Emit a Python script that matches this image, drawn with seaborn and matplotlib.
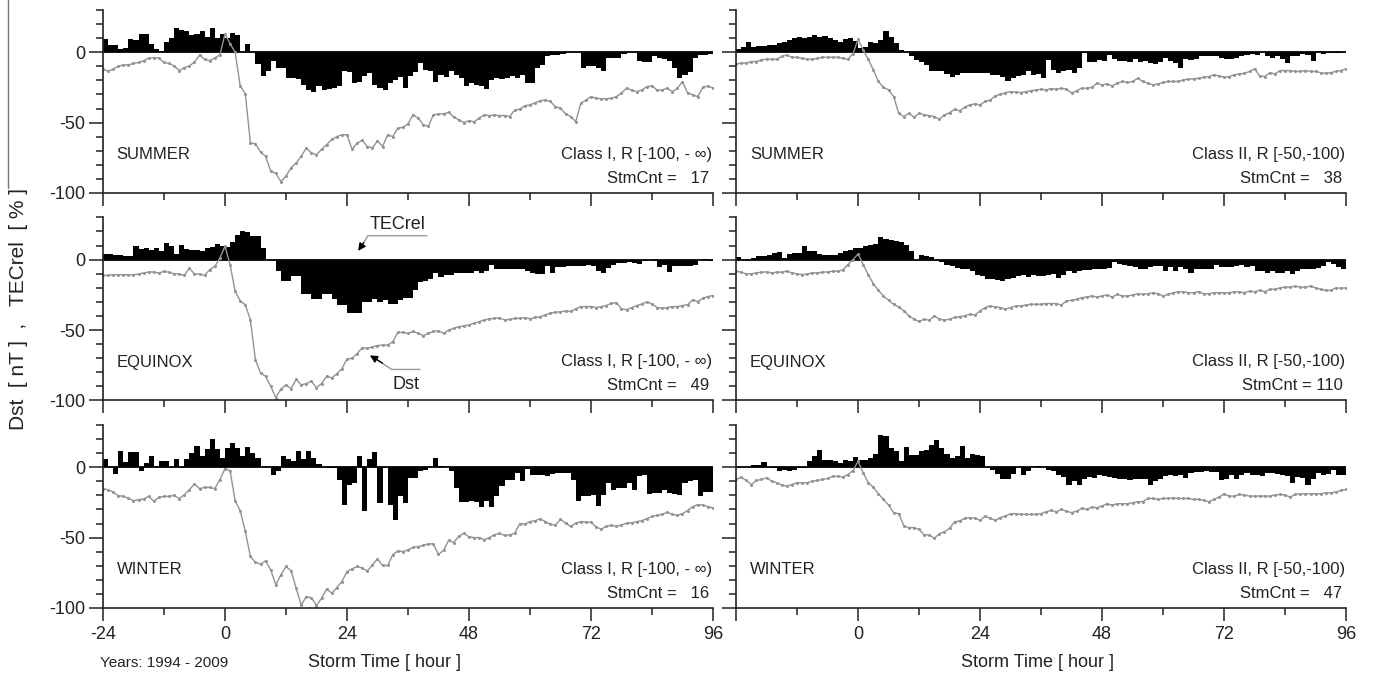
import numpy as np
import matplotlib
matplotlib.use("Agg")
import matplotlib.pyplot as plt
from matplotlib.ticker import MultipleLocator
from matplotlib.lines import Line2D
import seaborn as sns

# storm time axis: Dst sampled each hour, TECrel binned per hour (left edges)
hours = np.arange(-24, 97)
bar_hours = np.arange(-24, 96)

# ---- SUMMER, Class I ----
tec_summer_1 = [9.5, 5, 5, 2, 3, 9.5, 9, 13, 13, 6, 2, 1, 7, 10, 17, 16, 15, 12, 13, 15, 11, 17, 10, 13,
                10, 14, 12, 0, 6, 0,
                -8.5, -17, -13, -6, -11, -11, -18, -18, -19, -23.6, -26.7, -28, -24, -26.7, -26, -25.5, -24, -13, -14, -22,
                -21.5, -17, -15, -23, -25.5, -27, -22, -19.6, -17.7, -25.5, -17, -14.4, -7.8, -12.5, -13, -21, -16, -17.7, -13.7, -16,
                -18.5,
                -24, -22, -23, -24, -26.4, -20, -18.6, -19, -18, -17, -18, -16, -22, -22, -11.4, -9, -3, -2, -2, -1.4,
                0, 0, 0, -11, -10, -10, -11, -13, -4, -4, -4, -1, 0, 0, -6, -7, -7, -3, -4, -5,
                -6, -11, -18, -16, -14, -4, -2, -2,
                -1]
dst_summer_1 = [-12, -13.5, -12, -10, -9, -9, -8, -7.3, -6, -4.3, -3.8, -4.3, -7.3, -8, -9.7, -13, -11, -9.7, -7, -2, -5, -6, -4, -2,
                13, 6, 0, -24, -29.5, -64.5, -65, -71, -74, -84.6, -86, -92, -88, -82, -78.7, -74, -68, -71.6, -72.8, -69,
                -65.7, -62, -60, -58.6, -58.6, -69, -64.5, -62.6, -67, -68, -63, -67, -58.6, -60, -54, -53.4, -50.8, -44.4, -46.8, -51.5,
                -52.7, -44.4, -44, -43.7, -42.8, -46, -48,
                -50, -48.6, -49.5, -46.8, -44.5, -45, -44.5, -45, -45, -45.7, -41, -40.5, -38, -37.4, -36, -34.4, -34, -35, -38.6, -39.8,
                -43.8, -45.7, -49.3, -36.3, -34, -31.5, -32.7, -33, -33, -32.7, -31.5, -29, -25.6, -27, -28, -26.8, -24.4, -24, -26.8, -26.8,
                -25.6, -28, -25.6, -20.9, -29, -30.3, -31.5, -25, -24, -25.5]

# ---- SUMMER, Class II ----
tec_summer_2 = [2, 4, 7, 3.5, 4.5, 4.5, 5, 5, 6.4, 7.6, 8.8, 10, 11, 10, 10.7, 12.3, 11, 11.6, 10, 8.8, 7.6, 9.2, 10, 8,
                3, 4, 7.6, 6.4, 8.8, 15, 10.7, 6.4, 1.7, 0, -3, -5.5, -6.6,
                -9, -13, -13, -13.7, -15.4, -17.3, -16, -15, -15, -15, -15, -14.5, -15, -16, -16, -17.8, -20.8, -18.5, -16.8, -16,
                -13.7, -16, -15.4, -18.5, -5.5, -12.5, -14.5, -13, -12.5, -15, -11.4, -0.7, -6.6, -6.6, -5.5, -6, -2, -5, -6, -6,
                -7.3, -5, -7.3, -6, -7.8, -8.3, -7.3, -4.3, -6, -7.8, -11.4, -5, -5.5, -5, -3, -2.6, -2.6, -3, -4.3, -5,
                -5, -4.3, -3, -2, -1.2, -2, 0, -3, -4.3, -2.4, -5, -7.8, -3, -2.4, -1.4, -2, -6, 1, -1.2, -0.7, -0.3,
                -0.5, -0.2]
dst_summer_2 = [-8.3, -7.8, -7.8, -6.6, -6.6, -5.5, -5, -5, -5, -3, -2, -3.6, -3.6, -4.3, -5, -5, -4.3, -3.6, -3.6, -3.6, -3.6, -4.3, -5, -1,
                9.2, 1.7, -5, -12.5, -20.8, -25, -26.8, -31.5, -43.4, -45.7, -43.4, -46.2, -43.4, -44.5, -45, -45.7, -47.6, -44.5, -43, -40.5,
                -41.7, -39, -37.4, -36.7, -37.4, -35, -34, -31, -29.9, -28.7, -28, -28.4, -28.7, -28, -27.3, -26.8, -26.3, -26.8, -25.8, -26.3,
                -25.6, -26.3, -29, -27.3, -25.6, -25.6, -25, -22, -23.2, -22.5, -24, -22, -20.8, -21.5, -20.8, -18.5, -20.8, -22, -23.2, -22.5,
                -21.5, -20.8, -20.8, -20.8, -19.7, -19, -19, -18.5, -17.8, -17.3, -16, -16.8, -17.8, -17.3, -16, -15.4, -15, -13.7, -11.8, -16.8,
                -17.3, -14.5, -15.4, -13, -13, -13, -13.7, -13.7, -13, -13.7, -13.7, -14.5, -15, -14.5, -13.7, -13, -11.8]

# ---- EQUINOX, Class I ----
tec_equinox_1 = [4, 4, 3.5, 3, 2.5, 2.5, 9.5, 7.5, 8.5, 6.5, 8, 6, 12, 10, 4, 10.5, 7.5, 7, 7, 6, 8, 9, 11, 10,
                 9, 12.6, 17.8, 20, 19.5, 16.6, 16.6, 8.3, -0.5, 0,
                 -8, -15.5, -15.5, -11.4, -11.4, -24.5, -24.5, -28, -28, -24.5, -24.5, -28, -32, -32, -38, -38, -38, -29.8, -30, -28,
                 -29.8, -29, -31.7, -31.7, -28.6, -27, -27,
                 -21.4, -16, -15, -13.6, -9.5, -12, -10.7, -10.7, -9.5, -9.5, -9.5, -9.5, -8.3, -9.5, -8.3, -3.6, -7, -7, -7, -7,
                 -6.7, -6.7, -7.8, -9.5, -10.2, -10.2, -4.8, -9.5, -5.5, -5.5, -4.8, -4.8, -4.3, -4.3, -3.6, -4.8, -8.3, -9.5, -6, -3.6,
                 -2.4, -2.4, -1.7, -2.4, -3, -1.2, 0, -0.7, -5.5, -3.6, -9, -4.8, -4.8, -4.3, -4.3, -3.6, 0, 0.8, -1.2]
dst_equinox_1 = [-11.2, -11.2, -10.7, -10.7, -10.7, -10.7, -10.7, -10.2, -9.5, -8.8, -8.8, -9.5, -8.3, -9, -10, -10.2, -11.2, -6, -10.2, -10.2,
                 -11.2, -7.1, -4.8, 1.2,
                 9.5, -3.6, -22.6, -29.3, -32, -42.9, -71.4, -80.5, -83, -90, -98, -92, -89, -91.7, -85, -89, -88, -86.4, -91, -88,
                 -82.9, -84, -81, -77.4, -70.7, -70, -66.7, -62.6, -63, -62, -61, -60.7, -60.7, -58.3, -51.7, -51.7, -52.4, -51,
                 -52.4, -54, -52.4, -51, -50.5, -52.4, -50, -48.8, -47.6, -47, -46.4, -45.2, -44, -42.9, -42, -41.7, -41.2, -42.9, -42.5, -41.7,
                 -41.7, -41.2, -42, -41, -40.5, -39.3, -38, -37.4, -37, -36.4, -36.8, -35, -33.3, -33.3, -33.3, -34, -33.3, -32.6, -31, -30.5,
                 -35, -35.5, -34, -32.6, -31.5, -30, -31.5, -34, -34.5, -34, -33.3, -33.3, -32.6, -32, -28.6, -29.8, -27.4, -26.2, -25.5]

# ---- EQUINOX, Class II ----
tec_equinox_2 = [1.6, 0, 0, 1.2, 2.3, 2.8, 3.5, 4.7, 5.2, 1.2, 4, 4.7, 4.7, 9.4, 5.9, 5.9, 4, 3, 3.5, 3.5, 4.7, 5.9, 7, 8.2,
                 8.2, 9.4, 10.6, 11, 16, 14.6, 14, 13.4, 12.4, 10.6, 5.9, 0, 3, 2.8, 1.6, 0,
                 -1.6, -3.5, -4.7, -5.9, -6.3, -6.3, -8.2, -10.6, -11.7, -13.4, -14.1, -14.8, -15.3, -13.4, -12.9, -11.7, -11, -12.4, -10.6, -11.7,
                 -11.7, -10.6, -10.1, -12.9, -10.6, -8.2, -9.4, -8.2, -7.7, -7.7, -7, -7, -7, -5.9, -1.6, -3, -3.5, -4.7, -5.4, -7,
                 -6.3, -5.4, -4.7, -4.2, -8.2, -5.4, -8.2, -5.4, -6.6, -9.4, -7, -6.3, -6.3, -7, -3.5, -5.4, -5.4, -5.4, -4.7, -3.5,
                 -5.4, -4.2, -8.2, -8.2, -9.4, -8.2, -9.4, -9.4, -8.2, -9.9, -8.2, -7, -7, -7, -5.9, -4.7, -1.6, -3, -5.4, -7]
dst_equinox_2 = [-8.2, -8.9, -10.1, -10.1, -9.4, -8.9, -8.7, -9.4, -8.9, -8.9, -8.2, -9.4, -10.1, -10.6, -10.1, -9.4, -9.4, -8.9, -8.7, -8.2,
                 -8.2, -7.3, -3.5, 0,
                 4, -3.5, -10.6, -17.1, -21.8, -25.8, -28.9, -31.7, -33.6, -36.4, -39.9, -42.3, -43.9, -42.3, -43, -39.9, -42.3, -43, -42.3, -41,
                 -40.5, -39.9, -38.7, -39.4, -36.4, -34, -32.9, -33.6, -34, -35.2, -34, -32.9, -32.9, -32.2, -31.7, -31.7, -31.7, -31.2, -31.2, -31.2,
                 -32.2, -29.3, -28.9, -28.2, -27, -26.5, -25.8, -26.5, -25.8, -25.1, -26.5, -24.6, -25.8, -25.8, -25.1, -24.2, -24.6, -24.2, -23.5, -24.2,
                 -25.8, -24.6, -23.5, -22.8, -22.8, -23.5, -23.5, -22.8, -24.2, -24.2, -23.5, -23.5, -23.5, -23.5, -22.8, -22.8, -23.5, -22.3, -22.8, -21.8,
                 -22.8, -21.1, -21.1, -20, -19.5, -19.5, -18.8, -19.5, -19.5, -18.8, -20, -21.1, -21.8, -21.8, -20, -20.4, -20]

# ---- WINTER, Class I ----
tec_winter_1 = [6, 0, -4.5, 11.4, 3.6, 10.7, 10.7, -2.4, 3.1, 7.8, 0.7, 4.3, 4.3, 0, 5.5, -0.5, 5.5, 10.2, 15, 7.8, 12.6, 20.2, 12.6, 6.7,
                13.3, 17.3, 13.3, 7.8, 14.5, 10.2, 6.7, 0, 0, -5.7, -2.4, 7.8, 5.5, 4.3, 11.6, 5.5, 11.6, 6.7, 2.4, 0,
                -0.5, -0.5, -8.8, -26.6, -12.4, -11.2, 7.8, -31.4, 5.5, 10.7, -25.4, 0, -26.6, -37.3, -20.7, -25.5,
                -7.6, -7.6, -2.9, -1.7, 0, 6.7, 0.7, 0, -2.4, -14.8, -24.8, -24.8, -23.8, -24.8, -28.6, -23.8, -28.6, -20.7, -13.6, -8.8,
                -8.8, -4, -10, -1.2, -5.2, -5.2, -5.2, -6, -4.8, -4, -4, -4, -8.8, -24.3, -20.7, -20.7, -19.5, -27.9, -19.5, -11.2,
                -16, -14.8, -14.8, -11.2, -16, -6.4, -5.2, -19, -18.3, -18.3, -16, -18.3, -19, -19.5, -11.2, -10, -8.8, -20.7, -17.6, -17.6]
dst_winter_1 = [-15.2, -16, -17.6, -20.2, -20.7, -21.9, -23.8, -23, -22.6, -20.7, -24.2, -21.4, -20.7, -20.7, -20, -22.3, -19.5, -16, -11.9, -15.2,
                -14.3, -14.3, -15.2, -8.8,
                -1, -2.4, -23.8, -30.9, -45.6, -63.4, -67.5, -68.9, -66.5, -72.9, -83.6, -76.5, -70.5, -73.6, -86, -97.9, -91.9, -92.6, -98.3, -93.1,
                -86.5, -89.5, -85.5, -81.2, -74.1, -72.2, -70.5, -71.7, -73.6, -69.4, -65.1, -69.8, -69.8, -62.2, -59.4, -59.9, -58.7, -57,
                -56.4, -55.5, -54.5, -54.5, -62, -59, -52, -53.5, -49, -47, -49.5, -50, -50, -51.5, -50, -48, -47, -48.5, -48, -47,
                -40, -40.5, -38.6, -38, -36.7, -38.6, -40.5, -41, -37, -39.8, -42, -39.8, -38.6, -39, -39, -42.5, -44, -42, -41.3, -42,
                -41, -39.8, -39.5, -38.6, -38, -36.5, -35, -34.2, -33.5, -32, -33.5, -34.2, -33, -30.8, -28, -26.5, -27, -28, -29]

# ---- WINTER, Class II ----
tec_winter_2 = [0, 0, 0, 1.9, 1.9, 3.5, 0, -0.5, -2.4, -1.7, -2.4, -1.7, -0.5, -0.5, 4.2, 7.8, 12.5, 5.4, 5, 4.7, 3, 5.4, 4.2, 7,
                5.4, 5.4, 6.6, 9.4, 23, 22, 13.7, 11.3, 4.2, 14.2, 9, 9, 11.8, 12.5, 16, 19.6, 13.7, 9.4, 6.6, 7.8,
                14.9, 6.6, 9.4, 8.5, 7.8, 0, -1.7, -4.7, -8.7, -8.7, -4.7, 0, -5.2, -2.4, 0, 0.7, 0, -1.7, -2.8, -5.2,
                -7, -12.7, -9.9, -12.7, -8.7, -7, -7.5, -5.7, -6.4, -7, -8, -8.7, -8.7, -9.4, -8.7, -8.7, -8.7, -12.3, -9.9, -8.7,
                -6.4, -5.7, -6.4, -5.2, -7.5, -4, -3.3, -3.3, -2.8, -3.3, -3.3, -9.4, -8.7, -5.2, -8.7, -5.2, -4, -5.7, -5.2, -6.4,
                -4, -4, -4.7, -5.2, -6.4, -11, -7, -7.5, -12.7, -8.7, -4, -5.2, -4.7, -1.7, -5.2, -5.2]
dst_winter_2 = [-8.7, -7, -9.4, -12.3, -9.4, -8.7, -7.5, -9.9, -11, -12.7, -13.4, -12.3, -11, -11, -11, -9.9, -9.4, -8.7, -8, -6.4,
                -6.4, -7, -5.2, -2.4,
                4.2, -4, -11, -14.2, -18.9, -22.9, -26.9, -32.3, -33, -41.7, -42.9, -42.9, -44.1, -48.1, -48.1, -50.5, -47.2, -45.8, -43.4, -38.7,
                -38.2, -36.3, -35.8, -36.3, -37.7, -34.7, -36.3, -37.7, -35.8, -34.7, -33, -33, -33.5, -33.5, -33.5, -33.5, -33, -31.6, -30.7, -31.6,
                -30, -31.2, -32.3, -31.2, -29.2, -30, -28.3, -28.8, -27.6, -25.9, -26.9, -25.9, -25.9, -25.9, -25.2, -24.5, -24.5, -22.2, -22.2, -22.9,
                -22.2, -22.2, -21.7, -22.2, -22.2, -22.2, -22.9, -22.9, -23.6, -24.5, -22.9, -21.2, -18.9, -20.5, -20.5, -19.3, -19.8, -20.5, -20.5, -20.5,
                -20.5, -20.5, -19.8, -19.3, -19.8, -21.2, -19.3, -18.9, -18.9, -18.9, -18.9, -18.9, -18.2, -18.2, -17.5, -16.5, -15.8]

seasons = ["SUMMER", "EQUINOX", "WINTER"]
classes = ["Class I, R [-100, - \u221e)", "Class II, R [-50,-100)"]
storm_counts = [[17, 38], [49, 110], [16, 47]]
tec_series = [[tec_summer_1, tec_summer_2], [tec_equinox_1, tec_equinox_2], [tec_winter_1, tec_winter_2]]
dst_series = [[dst_summer_1, dst_summer_2], [dst_equinox_1, dst_equinox_2], [dst_winter_1, dst_winter_2]]
xtick_vals = [-24, 0, 24, 48, 72, 96]

sns.set_style("ticks")
plt.rcParams["font.family"] = ["Liberation Sans", "DejaVu Sans"]
plt.rcParams["axes.unicode_minus"] = False

fig = plt.figure(figsize=(13.73, 6.79), dpi=100)
col_x = [0.0750, 0.5361]
row_y = [0.7158, 0.4103, 0.1046]
ax_w, ax_h = 0.4443, 0.2695
ink = "#222222"

axes = {}
for r in range(3):
    for c in range(2):
        ax = fig.add_axes([col_x[c], row_y[r], ax_w, ax_h])
        axes[(r, c)] = ax
        ax.bar(bar_hours, tec_series[r][c], width=1.0, align="edge", color="black", linewidth=0)
        ax.axhline(0, color="black", lw=1.3, zorder=1.5)
        sns.lineplot(x=hours, y=dst_series[r][c], ax=ax, color="#939393", linewidth=1.0,
                     marker="o", markersize=2.2, markeredgewidth=0)
        ax.set_xlim(-24, 96)
        ax.set_ylim(-100, 30)
        ax.set_xlabel("")
        ax.set_ylabel("")
        for s in ["top", "right"]:
            ax.spines[s].set_visible(False)
        for s in ["left", "bottom"]:
            ax.spines[s].set_color(ink)
            ax.spines[s].set_linewidth(1.2)

        ax.set_xticks(xtick_vals)
        ax.xaxis.set_minor_locator(MultipleLocator(12))
        ax.set_yticks([-100, -50, 0])
        ax.yaxis.set_minor_locator(MultipleLocator(10))
        ax.tick_params(axis="x", which="major", direction="out", length=9, width=1.1, color=ink,
                       labelsize=13, pad=4, labelcolor=ink)
        ax.tick_params(axis="x", which="minor", direction="out", length=5, width=1.1, color=ink)
        ax.tick_params(axis="y", which="major", direction="out", length=10, width=1.1, color=ink,
                       labelsize=13, pad=3, labelcolor=ink)
        ax.tick_params(axis="y", which="minor", direction="out", length=5, width=1.1, color=ink)

        if r < 2:
            ax.tick_params(axis="x", labelbottom=False)
        elif c == 1:
            ax.set_xticklabels([""] + [str(v) for v in xtick_vals[1:]])
        if c == 1:
            ax.tick_params(axis="y", labelleft=False)

        ax.text(-21.3, -73, seasons[r], ha="left", va="center", fontsize=12, color=ink)
        ax.text(95.8, -72.6, classes[c], ha="right", va="center", fontsize=12, color=ink)
        n = storm_counts[r][c]
        pad = "   " if n < 100 else " "
        ax.text(95.3, -89.7, f"StmCnt ={pad}{n}", ha="right", va="center", fontsize=12, color=ink)

# pointer labels in the equinox / class I panel
ax = axes[(1, 0)]
ax.text(33.9, 19.0, "TECrel", ha="center", va="bottom", fontsize=13, color=ink)
ax.plot([39.7, 28.1, 26.9], [17, 17, 9.5], color="#9a9a9a", lw=1.0)
ax.annotate("", xy=(26.2, 6.2), xytext=(27.3, 12.0),
            arrowprops=dict(arrowstyle="-|>", color="black", lw=1.0, mutation_scale=11, shrinkA=0, shrinkB=0))
ax.text(35.6, -82.5, "Dst", ha="center", va="top", fontsize=13, color=ink)
ax.plot([38.4, 32.8, 30.0], [-78, -78, -71.5], color="#9a9a9a", lw=1.0)
ax.annotate("", xy=(28.5, -68), xytext=(31.0, -73.5),
            arrowprops=dict(arrowstyle="-|>", color="black", lw=1.0, mutation_scale=11, shrinkA=0, shrinkB=0))

fig.text(0.0135, 0.545, "Dst  [ nT ]  ,   TECrel  [ % ]", rotation=90, ha="center", va="center",
         fontsize=15, color=ink)
fig.text(0.2804, 0.0236, "Storm Time [ hour ]", ha="center", va="center", fontsize=13, color=ink)
fig.text(0.7560, 0.0236, "Storm Time [ hour ]", ha="center", va="center", fontsize=13, color=ink)
fig.text(0.0728, 0.0236, "Years: 1994 - 2009", ha="left", va="center", fontsize=11, color=ink)

# thin frame remnant at the far left edge
fig.add_artist(Line2D([8 / 1373, 8 / 1373], [1.0, 1 - 188 / 679], color="#777777", lw=1.0))

fig.savefig("out.png", dpi=100)
